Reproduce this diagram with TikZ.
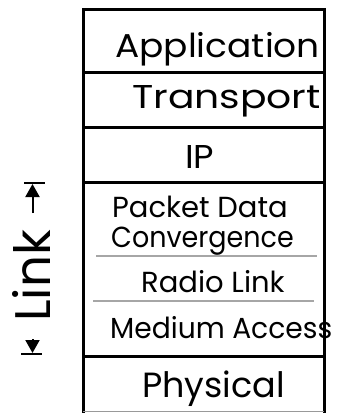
\documentclass[tikz,border=0pt]{standalone}
\usepackage{fontspec}
\setmainfont{Poppins}
\usetikzlibrary{arrows.meta}
\begin{document}
\begin{tikzpicture}[x=1pt,y=-1pt,
  frame/.style={line width=3pt},
  sublayer/.style={draw=black!35, line width=2pt},
  layer/.style={inner sep=0pt, anchor=base west},
  bigtext/.style={font=\fontsize{33}{36}\selectfont},
  smalltext/.style={font=\fontsize{29}{32}\selectfont},
  tick/.style={line width=1.5pt},
  span/.style={line width=2pt, -{Triangle[length=13pt,width=14pt]}}]
\useasboundingbox (0,0) rectangle (341,413);
% protocol stack outline and layer boundaries
\draw[frame] (83,413) -- (83,9) -- (324,9) -- (324,413);
\foreach \yy in {72,127,182,356} \draw[frame] (83,\yy) -- (324,\yy);
\draw[draw=black!40, line width=1.5pt] (83,411.5) -- (324,411.5);
% sublayers of the link layer
\draw[sublayer] (96,256) -- (317,256);
\draw[sublayer] (93,301) -- (314,301);
% layer names
\node[layer,bigtext] (app) at (115,57) {\scalebox{1.09}[1]{Application}};
\node[layer,bigtext] (trans) at (132,108) {\scalebox{1.19}[1]{Transport}};
\node[layer,bigtext] (ip) at (185,168) {\scalebox{1.07}[1]{IP}};
\node[layer,smalltext] (pdc1) at (112,217) {Packet Data};
\node[layer,smalltext] (pdc2) at (111,247) {\scalebox{0.93}[1]{Convergence}};
\node[layer,smalltext] (rlc) at (141,292) {Radio Link};
\node[layer,smalltext] (mac) at (110,338) {\scalebox{0.97}[1]{Medium Access}};
\node[layer,font=\fontsize{35}{38}\selectfont] (phy) at (142,397) {Physical};
% extent of the link layer
\node[inner sep=0pt, rotate=90, font=\fontsize{50}{54}\selectfont] (link) at (31.5,276) {Link};
\coordinate (topbarL) at (24,183);
\coordinate (topbarR) at (45,183);
\coordinate (botbarL) at (21,354);
\coordinate (botbarR) at (42,354);
\coordinate (toptail) at (32.5,213);
\coordinate (toptip) at (32.5,184);
\coordinate (bottail) at (32.5,339);
\coordinate (bottip) at (32.5,353);
\draw[tick] (topbarL) -- (topbarR);
\draw[tick] (botbarL) -- (botbarR);
\draw[span] (toptail) -- (toptip);
\draw[span] (bottail) -- (bottip);
\end{tikzpicture}
\end{document}
